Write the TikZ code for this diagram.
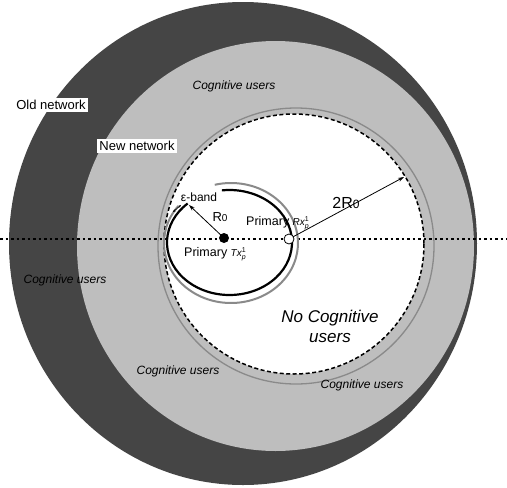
\documentclass[tikz,border=0pt]{standalone}
\usepackage{fontspec}
\setmainfont{Liberation Sans}
\usetikzlibrary{arrows.meta}
\newcommand\mysupsub[2]{\ensuremath{^{\mbox{\fontsize{7}{8}\selectfont #1}}_{\mbox{\fontsize{7}{8}\selectfont\itshape #2}}}}
\definecolor{darknet}{HTML}{454545}
\definecolor{lightnet}{HTML}{BEBEBE}
\definecolor{ringgray}{HTML}{8A8A8A}
\begin{document}
\begin{tikzpicture}[x=1pt,y=-1pt,
  cog/.style={font=\fontsize{12}{14}\selectfont\itshape, inner sep=0pt},
  netlbl/.style={font=\fontsize{13}{15}\selectfont, fill=white, inner sep=2pt},
  plain/.style={font=\fontsize{12.5}{14}\selectfont, inner sep=0pt},
  arr/.style={line width=0.8pt, -{Stealth[length=6pt,width=4pt]}}]
\useasboundingbox (0,0) rectangle (507,488);
\fill[white] (0,0) rectangle (507,488);
% networks
\fill[darknet] (243,243.5) ellipse [x radius=234, y radius=241.5];
\fill[lightnet] (275.5,246) ellipse [x radius=198.5, y radius=205];
\draw[ringgray, line width=1.3pt] (296,246) circle [radius=138];
\draw[fill=white, line width=1.5pt, dash pattern=on 4pt off 2.5pt] (294,244) circle [radius=130];
% horizontal dotted line
\coordinate (hl) at (0,239);
\coordinate (hr) at (507,239);
\draw[line width=1.2pt, dash pattern=on 2.5pt off 3pt] (hl) -- (hr);
% epsilon band and R0 boundary
\coordinate (ec) at (231,243);
\coordinate (bc) at (229.5,242.5);
\draw[ringgray, line width=2pt] (ec) ++(-142:67 and 60) arc[start angle=-142, end angle=-464, x radius=67, y radius=60];
\draw[black, line width=2.2pt] (bc) ++(-132:62.5 and 52.5) arc[start angle=-132, end angle=-457, x radius=62.5, y radius=52.5];
% points
\coordinate (tx) at (224,238);
\coordinate (rx) at (289,239);
\coordinate (r0end) at (189,205);
\coordinate (twor0end) at (404,177);
\coordinate (eps1) at (173,212);
\coordinate (eps2) at (181,205);
\draw[arr] (tx) -- (r0end);
\draw[arr] (rx) -- (twor0end);
\draw[line width=0.6pt, {Stealth[length=3pt,width=2.5pt]}-{Stealth[length=3pt,width=2.5pt]}] (eps1) -- (eps2);
\fill[black] (tx) circle [radius=5];
\draw[fill=white, line width=0.8pt] (rx) circle [radius=5];
% labels
\node[netlbl] (old) at (51,105) {Old network};
\node[netlbl] (new) at (137,146) {New network};
\node[cog] (cogtop) at (234,86) {Cognitive users};
\node[cog] (cogleft) at (65,280) {Cognitive users};
\node[cog] (cogbl) at (178,371) {Cognitive users};
\node[cog] (cogbr) at (362,385) {Cognitive users};
\node[font=\fontsize{17}{20}\selectfont\itshape, align=center, inner sep=0pt] (nocog) at (330,326) {No Cognitive\\users};
\node[font=\fontsize{12}{14}\selectfont, inner sep=0pt] (eps) at (199,197) {ε-band};
\node[font=\fontsize{13}{14}\selectfont, inner sep=0pt] (r0) at (220,217) {R{\fontsize{10}{12}\selectfont 0}};
\node[font=\fontsize{16}{18}\selectfont, inner sep=0pt] (twor0) at (346,203) {2R{\fontsize{12}{14}\selectfont 0}};
\node[plain, anchor=west] (rxl) at (246,223) {Primary {\fontsize{10}{12}\selectfont\itshape Rx}\mysupsub{1}{p}};
\node[plain, anchor=west] (txl) at (184,254) {Primary {\fontsize{10}{12}\selectfont\itshape Tx}\mysupsub{1}{p}};
\end{tikzpicture}
\end{document}
